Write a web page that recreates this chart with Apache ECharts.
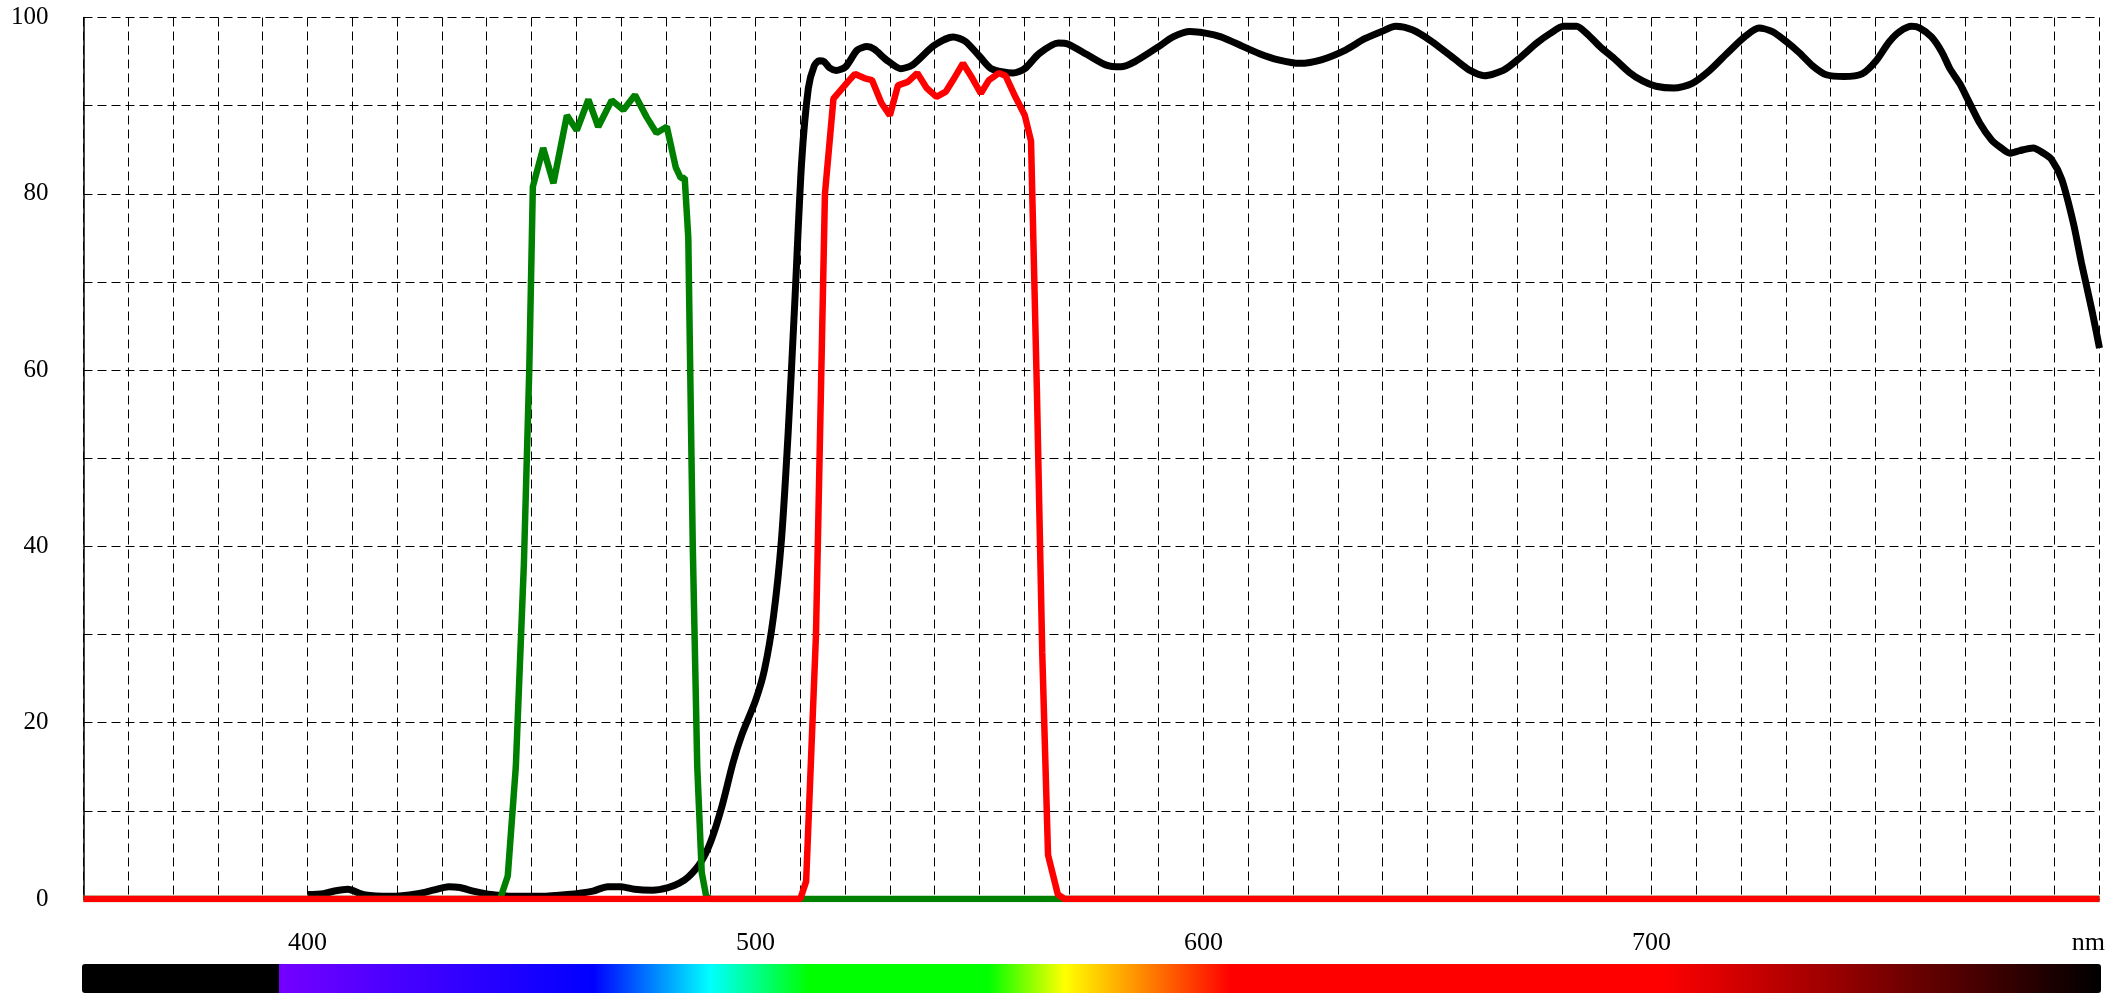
<!DOCTYPE html>
<html>
<head>
<meta charset="utf-8">
<script src="https://cdn.jsdelivr.net/npm/echarts@6/dist/echarts.min.js"></script>
<style>
html,body{margin:0;padding:0;background:#fff;}
#chart{width:2113px;height:993px;}
</style>
</head>
<body>
<div id="chart"></div>
<script>
// ---- data (wavelength nm, transmission %) ----
const blackNm = [400,403.5,406,409,412.6,418.6,424.6,428,431.5,434,437,441,446,452,458,463.7,467,470,473,477,480.5,483,485,487.7,490,492.5,495,497,500,502,504,505.8,507.3,508.8,510.3,511.8,513.1,514.2,515.3,516.5,518,520.1,522.7,524.9,526.5,529.2,532.4,535,539.8,544.1,546.8,550,552.6,557.5,560.1,563.3,567.6,569.7,574,578.3,581.5,584.7,590,593.2,597,600.7,603.9,607.1,612.5,616.7,621.5,626.3,631.7,636,639.7,642.9,646.6,650.9,656.3,659.5,662.7,666.9,670.1,674.4,677.4,680.3,683.3,685.5,688.5,692,695,698,701,705,709,713,717,721,724,727,730,733,736,739,743,747,750,753,755.4,758.1,759.9,762.5,764.8,766.6,768.8,770.7,773.3,775.9,777.8,780,782.2,785.2,787.5,789.3,791.6,794.2,796,798.3,800];
const blackVal = [0.5,0.6,0.9,1.1,0.5,0.3,0.6,1.0,1.4,1.3,0.9,0.5,0.3,0.3,0.5,0.9,1.4,1.4,1.1,1.0,1.3,1.8,2.5,4.1,6.5,10.5,15.5,18.7,22.5,26,32,40.8,53,68,83.6,92,94.5,95.1,95,94.3,94,94.4,96.3,96.7,96.4,95.2,94.2,94.6,96.8,97.8,97.3,95.6,94.2,93.7,94.2,95.9,97.1,97,95.8,94.6,94.4,95,96.7,97.8,98.4,98.2,97.8,97.1,95.9,95.2,94.8,95.2,96.3,97.6,98.4,99,98.6,97.3,95.2,94,93.4,94,95.2,97.1,98.2,99,99,98.2,96.7,95.2,93.8,92.8,92.2,92,92.5,94,96,97.9,98.8,98.4,97.3,96,94.5,93.5,93.3,93.6,95,97.2,98.4,99,98.8,97.8,96.1,94.2,92.5,90.6,88,86.1,85.3,84.6,84.9,85.2,84.6,83.9,81.6,76.6,72.1,66.8,62.5];

const greenNm = [350,443,444.7,446.5,448.3,449.5,450.3,452.6,454.9,457.9,460.1,462.7,464.9,467.9,470.5,473.1,475.7,477.9,480.2,482.2,483.3,484.2,485,486,487,488,489,490,800];
const greenVal = [0,0,2.6,15,38,60,80.8,85.2,81.2,88.9,87.2,90.7,87.6,90.6,89.5,91.2,88.7,86.9,87.6,83,81.8,81.8,75,40,15,3,0.3,0,0];

const redNm = [350,510,511.3,513.5,515.5,517.4,520.6,522.2,524.4,526,528.1,530,531.8,534,536.1,538.2,540.4,542.5,544.1,546.3,548.4,550.3,552.1,554.3,555.8,558,560.1,561.5,562.8,564,565.3,567.5,569,800];
const redVal = [0,0,2,30,80,90.8,92.7,93.6,93.1,92.9,90.3,88.9,92.3,92.7,93.7,92,91,91.6,92.9,94.8,93.1,91.4,92.9,93.7,93.4,91,88.9,86,58,28,5,0.5,0,0];

const xTickLabels = [400,500,600,700];
const yTickLabels = [0,20,40,60,80,100];
const xUnit = 'nm';

// spectrum bar colour stops: [nm, colour]
const spectrumNm = [350,394,394,464,490,512,552,569,583,606,702,750,800];
const spectrumColor = ['#000000','#000000','#7400ff','#0000ff','#00ffff','#00ff00','#00ff00','#ffff00','#ffa000','#ff0000','#ff0000','#800000','#000000'];

function zip(a,b){return a.map((v,i)=>[v,b[i]]);}

const chart = echarts.init(document.getElementById('chart'), null, {renderer:'canvas'});
const FONT = 'Liberation Serif';
const dash = {type:[9,5], color:'#000', width:1};

chart.setOption({
  animation:false,
  backgroundColor:'#fff',
  grid:{left:83.5, right:13.5, top:17.5, bottom:94, containLabel:false},
  xAxis:{
    type:'value', min:350, max:800, interval:10,
    axisLine:{show:true, lineStyle:{color:'#000', width:1}},
    axisTick:{show:false},
    splitLine:{show:true, lineStyle:dash},
    axisLabel:{
      margin:31, fontFamily:FONT, fontSize:26, color:'#000',
      formatter:v=> xTickLabels.indexOf(v)>=0 ? String(v) : ''
    }
  },
  yAxis:{
    type:'value', min:0, max:100, interval:10,
    axisLine:{show:true, lineStyle:{color:'#000', width:1.5}},
    axisTick:{show:false},
    splitLine:{show:true, lineStyle:dash},
    axisLabel:{
      margin:35, fontFamily:FONT, fontSize:25, color:'#000',
      formatter:v=> yTickLabels.indexOf(v)>=0 ? String(v) : ''
    }
  },
  series:[
    {type:'line', data:zip(blackNm,blackVal), showSymbol:false, smooth:0.25, lineStyle:{color:'#000', width:7}, z:3},
    {type:'line', data:zip(greenNm,greenVal), showSymbol:false, lineStyle:{color:'#008000', width:6.5}, z:4},
    {type:'line', data:zip(redNm,redVal), showSymbol:false, lineStyle:{color:'#ff0000', width:6.5}, z:5}
  ]
});

// spectrum bar aligned to the x scale
const x0 = chart.convertToPixel({xAxisIndex:0}, 350);
const x1 = chart.convertToPixel({xAxisIndex:0}, 800);
const stops = spectrumNm.map((nm,i)=>({offset:(nm-350)/450, color:spectrumColor[i]}));
chart.setOption({
  graphic:[
    {type:'rect', shape:{x:x0-1.5, y:964, width:(x1-x0)+3, height:29, r:3},
     style:{fill:new echarts.graphic.LinearGradient(0,0,1,0,stops)}, silent:true},
    {type:'text', x:2105, y:943, style:{text:xUnit, font:'26px "Liberation Serif"', fill:'#000', align:'right', verticalAlign:'middle'}, silent:true}
  ]
});
</script>
</body>
</html>
